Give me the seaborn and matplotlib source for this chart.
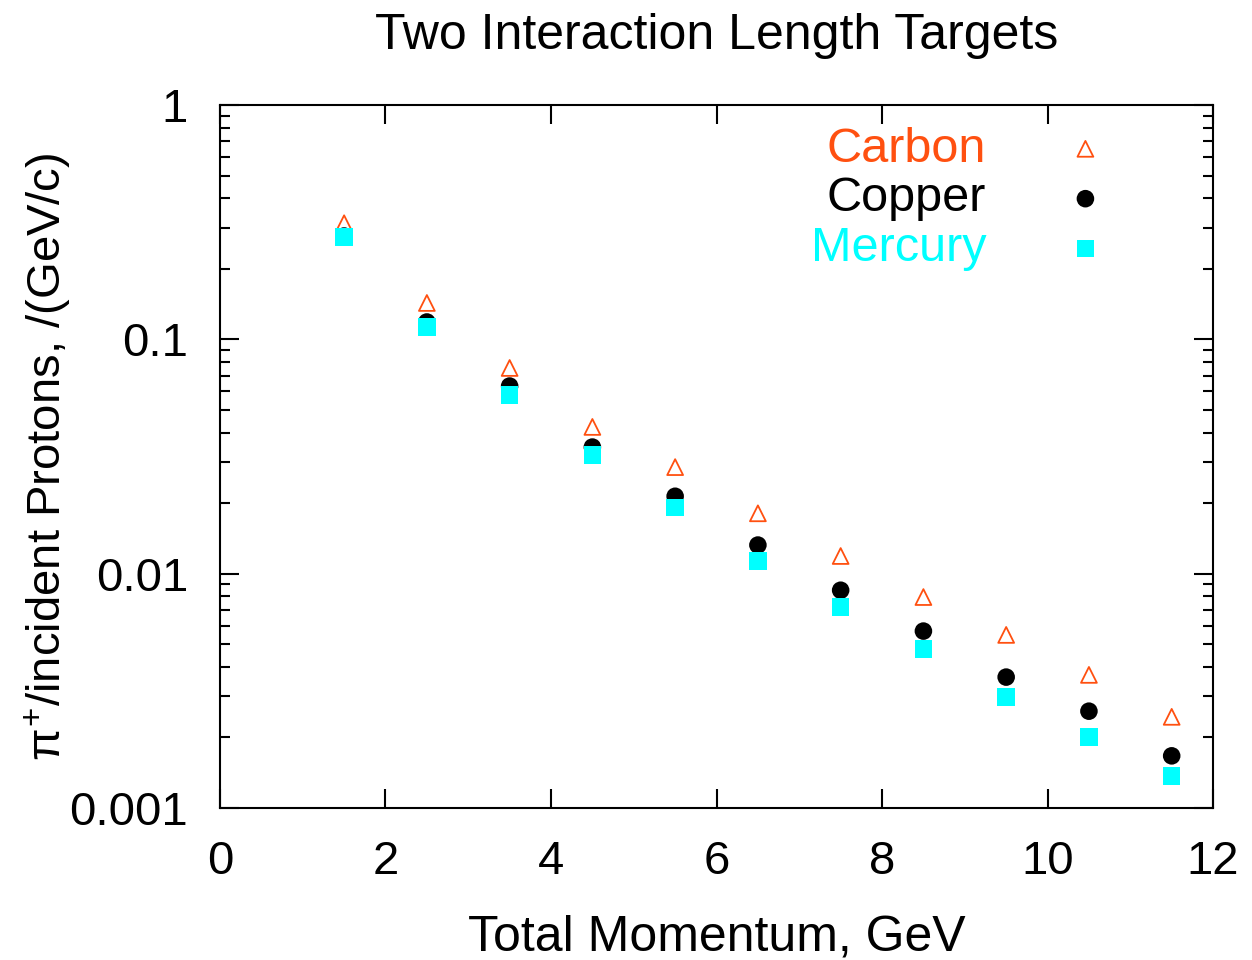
import numpy as np
import pandas as pd
import matplotlib
matplotlib.use("Agg")
import matplotlib.pyplot as plt
import seaborn as sns
from matplotlib.ticker import LogLocator, NullFormatter

momentum = [1.5, 2.5, 3.5, 4.5, 5.5, 6.5, 7.5, 8.5, 9.5, 10.5, 11.5]
carbon = [0.313, 0.143, 0.0755, 0.0423, 0.0285, 0.0181, 0.0119, 0.00795, 0.00548, 0.00370, 0.00245]
copper = [0.276, 0.1186, 0.0632, 0.0347, 0.0214, 0.01325, 0.0085, 0.00569, 0.00362, 0.00259, 0.00167]
mercury = [0.273, 0.113, 0.0579, 0.0321, 0.0192, 0.0113, 0.0072, 0.00477, 0.00298, 0.00201, 0.00137]

sns.set_style("ticks")
plt.rcParams['font.family'] = ['Liberation Sans', 'DejaVu Sans']
plt.rcParams['mathtext.fontset'] = 'custom'
plt.rcParams['mathtext.rm'] = 'Liberation Sans'
plt.rcParams['mathtext.it'] = 'Liberation Sans'
for k in ['text.color', 'axes.labelcolor', 'xtick.color', 'ytick.color', 'axes.edgecolor']:
    plt.rcParams[k] = 'black'

df = pd.DataFrame({"p": momentum * 3,
                   "val": carbon + copper + mercury,
                   "target": ["Carbon"] * 11 + ["Copper"] * 11 + ["Mercury"] * 11})

fig = plt.figure(figsize=(12.52, 9.6), dpi=100)
ax = fig.add_axes([0.1757, 0.1583, 0.7932, 0.7323])

kolory = {"Carbon": "#ff5010", "Copper": "black", "Mercury": "#00ffff"}
sns.scatterplot(data=df[df.target == "Carbon"], x="p", y="val", ax=ax, marker="^",
                s=130, facecolors="none", edgecolor=kolory["Carbon"], linewidth=1.3,
                label="Carbon", zorder=3)
sns.scatterplot(data=df[df.target == "Copper"], x="p", y="val", ax=ax, marker="o",
                s=160, color="black", edgecolor="none", label="Copper", zorder=4)
sns.scatterplot(data=df[df.target == "Mercury"], x="p", y="val", ax=ax, marker="s",
                s=160, color=kolory["Mercury"], edgecolor="none", label="Mercury", zorder=5)

ax.set_yscale("log")
ax.set_xlim(0, 12)
ax.set_ylim(0.001, 1)
ax.set_xticks([0, 2, 4, 6, 8, 10, 12])
ax.set_yticks([0.001, 0.01, 0.1, 1])
ax.set_yticklabels(["0.001", "0.01", "0.1", "1"])
ax.yaxis.set_minor_locator(LogLocator(base=10, subs=np.arange(2, 10)))
ax.yaxis.set_minor_formatter(NullFormatter())
ax.tick_params(which="both", direction="in", top=True, right=True, width=1.5,
               labelsize=34)
ax.tick_params(axis="x", pad=23)
ax.tick_params(axis="y", pad=23)
ax.tick_params(which="major", length=14)
ax.tick_params(which="minor", length=7)
for s in ax.spines.values():
    s.set_linewidth(1.5)

ax.set_title("Two Interaction Length Targets", fontsize=36, pad=40)
ax.set_xlabel("Total Momentum, GeV", fontsize=36, labelpad=22)
ax.set_ylabel(r"$\pi^{+}$/incident Protons, /(GeV/c)", fontsize=34)
ax.yaxis.set_label_coords(-0.148, 0.5)

leg = ax.legend(loc="upper right", markerfirst=False, frameon=False, fontsize=35,
                handlelength=2.0, handletextpad=1.04, labelspacing=0.1,
                borderaxespad=0.0, bbox_to_anchor=(0.94, 0.997))
for t in leg.get_texts():
    t.set_color(kolory[t.get_text()])

fig.savefig("out.png", dpi=100)
